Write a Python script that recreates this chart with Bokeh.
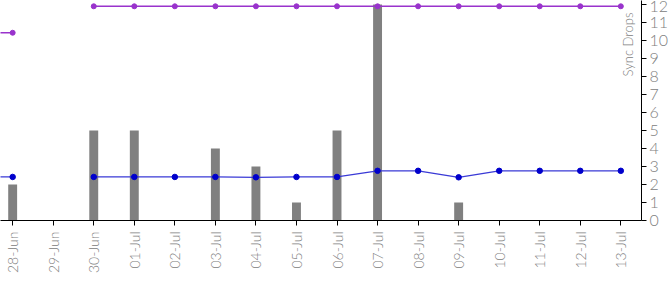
import math
import numpy as np
from bokeh.plotting import figure
from bokeh.models import FixedTicker, Range1d, Label, ColumnDataSource
from bokeh.embed import file_html
from bokeh.resources import INLINE

# ---- data ----
dates = ["28-Jun", "29-Jun", "30-Jun", "01-Jul", "02-Jul", "03-Jul", "04-Jul", "05-Jul",
         "06-Jul", "07-Jul", "08-Jul", "09-Jul", "10-Jul", "11-Jul", "12-Jul", "13-Jul"]
sync_drops = [2, 0, 5, 5, 0, 4, 3, 1, 5, 12, 0, 1, 0, 0, 0, 0]
# line series (on the chart's hidden left scale); first value belongs to the previous day (27-Jun)
line_dates_idx = list(range(-1, 16))
purple_series = [10.43, 10.43, np.nan, 11.9, 11.9, 11.9, 11.9, 11.9, 11.9, 11.9, 11.9,
                 11.9, 11.9, 11.9, 11.9, 11.9, 11.9]
blue_series = [2.42, 2.42, np.nan, 2.42, 2.42, 2.42, 2.42, 2.40, 2.42, 2.42, 2.76,
               2.76, 2.40, 2.76, 2.76, 2.76, 2.76]
y_ticks = list(range(0, 13))

FONT = "'Lato Light', Lato"
GRAY = "#808080"

p = figure(width=672, height=283, output_backend="svg", toolbar_location=None,
           y_axis_location="right",
           x_range=Range1d(-0.30, 15.51), y_range=Range1d(0, 12.222),
           min_border_left=0, min_border_top=0, min_border_right=31, min_border_bottom=63)
p.outline_line_color = None
p.grid.grid_line_color = None
p.background_fill_color = "white"
p.border_fill_color = "white"

idx = list(range(len(dates)))
bars = ColumnDataSource(dict(x=idx, top=sync_drops))
p.vbar(x="x", top="top", width=0.22, source=bars, fill_color=GRAY, line_color=None)

lines = ColumnDataSource(dict(x=line_dates_idx, purple=purple_series, blue=blue_series))
p.line("x", "purple", source=lines, line_color="#9933cc", line_width=1.5)
p.scatter("x", "purple", source=lines, size=5, fill_color="#9933cc", line_color="#9933cc")
p.line("x", "blue", source=lines, line_color="#3a3ad6", line_width=1.3)
p.scatter("x", "blue", source=lines, size=5.5, fill_color="#0000cc", line_color="#0000cc")

xa = p.xaxis[0]
xa.ticker = FixedTicker(ticks=idx)
xa.major_label_overrides = {i: d for i, d in enumerate(dates)}
xa.major_label_orientation = math.pi / 2
xa.major_label_text_font = FONT
xa.major_label_text_font_size = "14px"
xa.major_label_text_color = GRAY
xa.axis_line_color = "black"
xa.major_tick_line_color = "black"
xa.major_tick_out = 5
xa.major_tick_in = 0
xa.minor_tick_line_color = None
xa.major_label_standoff = 6

ya = p.yaxis[0]
ya.ticker = FixedTicker(ticks=y_ticks)
ya.major_label_text_font = FONT
ya.major_label_text_font_size = "16px"
ya.major_label_text_color = GRAY
ya.axis_line_color = "black"
ya.major_tick_line_color = "black"
ya.major_tick_out = 5
ya.major_tick_in = 0
ya.minor_tick_line_color = None
ya.major_label_standoff = 3

p.add_layout(Label(x=15.17, y=9.78, text="Sync Drops", angle=math.pi / 2,
                   text_align="center", text_baseline="middle",
                   text_font=FONT, text_font_size="13px", text_color=GRAY))

open("out.html", "w").write(file_html(p, INLINE))
